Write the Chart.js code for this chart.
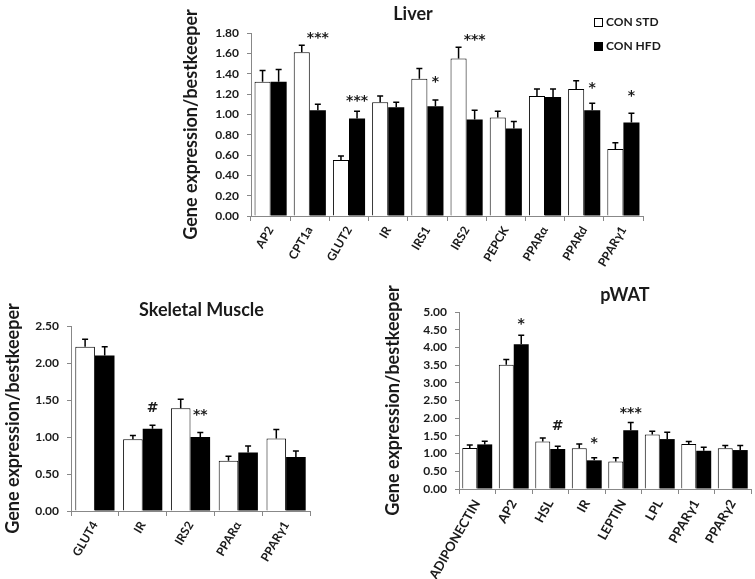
<!DOCTYPE html>
<html>
<head>
<meta charset="utf-8">
<script src="https://cdn.jsdelivr.net/npm/chart.js@4.4.0/dist/chart.umd.min.js"></script>
<style>
  html, body { margin: 0; padding: 0; background: #fff; overflow: hidden; }
  body { width: 755px; height: 579px; position: relative; }
  canvas { position: absolute; }
  #liver { left: 170px; top: 0; }
  #muscle { left: 0; top: 290px; }
  #pwat { left: 380px; top: 280px; }
</style>
</head>
<body>
<canvas id="liver" width="500" height="300"></canvas>
<canvas id="muscle" width="330" height="289"></canvas>
<canvas id="pwat" width="375" height="299"></canvas>
<script>
// values (mean and upper error)
const liverLabels = ["AP2", "CPT1a", "GLUT2", "IR", "IRS1", "IRS2", "PEPCK", "PPARα", "PPARd", "PPARγ1"];
const liverStd = [1.32, 1.61, 0.55, 1.12, 1.35, 1.55, 0.97, 1.18, 1.25, 0.66];
const liverStdErr = [0.11, 0.07, 0.04, 0.06, 0.10, 0.11, 0.06, 0.07, 0.08, 0.06];
const liverHfd = [1.32, 1.04, 0.96, 1.07, 1.08, 0.95, 0.86, 1.17, 1.04, 0.92];
const liverHfdErr = [0.12, 0.06, 0.07, 0.05, 0.06, 0.09, 0.07, 0.08, 0.07, 0.09];
const liverSig = ["", "***", "***", "", "*", "***", "", "", "*", "*"];
const liverSigY = [0, 1.79, 1.17, 0, 1.36, 1.77, 0, 0, 1.30, 1.22];
const liverTicks = [0, 0.2, 0.4, 0.6, 0.8, 1.0, 1.2, 1.4, 1.6, 1.8];

const muscleLabels = ["GLUT4", "IR", "IRS2", "PPARα", "PPARγ1"];
const muscleStd = [2.22, 0.97, 1.39, 0.68, 0.98];
const muscleStdErr = [0.10, 0.05, 0.12, 0.06, 0.12];
const muscleHfd = [2.10, 1.11, 1.00, 0.79, 0.73];
const muscleHfdErr = [0.12, 0.05, 0.06, 0.09, 0.08];
const muscleSig = ["", "#", "**", "", ""];
const muscleSigY = [0, 1.41, 1.35, 0, 0];
const muscleTicks = [0, 0.5, 1.0, 1.5, 2.0, 2.5];

const pwatLabels = ["ADIPONECTIN", "AP2", "HSL", "IR", "LEPTIN", "LPL", "PPARγ1", "PPARγ2"];
const pwatStd = [1.16, 3.51, 1.34, 1.15, 0.78, 1.54, 1.27, 1.15];
const pwatStdErr = [0.08, 0.15, 0.10, 0.12, 0.10, 0.09, 0.07, 0.08];
const pwatHfd = [1.26, 4.09, 1.13, 0.81, 1.66, 1.41, 1.08, 1.10];
const pwatHfdErr = [0.09, 0.25, 0.08, 0.07, 0.22, 0.19, 0.10, 0.13];
const pwatSig = ["", "*", "#", "*", "***", "", "", ""];
const pwatSigY = [0, 4.76, 1.81, 1.40, 2.26, 0, 0, 0];
const pwatTicks = [0, 0.5, 1.0, 1.5, 2.0, 2.5, 3.0, 3.5, 4.0, 4.5, 5.0];

const FONT = "Lato, 'Noto Sans', sans-serif";
const INK = "#1a1a1a";
const AXIS = "#888";

// error bars, significance marks and panel title
function panelExtras(opt) {
  return {
    id: "panelExtras",
    afterDatasetsDraw(chart) {
      const { ctx, chartArea } = chart;
      const y = chart.scales.y;
      ctx.save();
      ctx.strokeStyle = "#000";
      ctx.lineWidth = 1.5;
      chart.data.datasets.forEach((ds, di) => {
        chart.getDatasetMeta(di).data.forEach((bar, i) => {
          const top = y.getPixelForValue(ds.data[i] + ds.errors[i]);
          ctx.beginPath();
          ctx.moveTo(bar.x, bar.y);
          ctx.lineTo(bar.x, top);
          ctx.moveTo(bar.x - 3, top);
          ctx.lineTo(bar.x + 3, top);
          ctx.stroke();
        });
      });

      const hfd = chart.getDatasetMeta(1);
      ctx.fillStyle = INK;
      ctx.textAlign = "center";
      ctx.textBaseline = "alphabetic";
      ctx.font = "bold 14px 'DejaVu Sans', sans-serif";
      opt.sig.forEach((s, i) => {
        if (!s) return;
        const py = y.getPixelForValue(opt.sigY[i]);
        ctx.fillText(s, hfd.data[i].x, py + (s[0] === "#" ? 5 : 8));
      });

      ctx.font = "bold 18px " + FONT;
      ctx.textBaseline = "middle";
      ctx.fillText(opt.title, (chartArea.left + chartArea.right) / 2 + opt.dx, chartArea.top + opt.dy);
      ctx.restore();
    }
  };
}

// legend in the top right corner of the liver panel
const cornerLegend = {
  id: "cornerLegend",
  afterDraw(chart) {
    const { ctx, chartArea } = chart;
    ctx.save();
    ctx.font = "bold 12px " + FONT;
    ctx.textBaseline = "middle";
    ctx.textAlign = "left";
    chart.data.datasets.forEach((ds, i) => {
      const x = chartArea.right - 49;
      const yy = chartArea.top - 11 + i * 24;
      ctx.fillStyle = ds.backgroundColor;
      ctx.fillRect(x, yy - 4, 9, 9);
      ctx.strokeStyle = "#000";
      ctx.lineWidth = 1;
      ctx.strokeRect(x + 0.5, yy - 3.5, 8, 8);
      ctx.fillStyle = INK;
      ctx.fillText(ds.label, x + 12, yy);
    });
    ctx.restore();
  }
};

function panel(id, d, box, plugins) {
  return new Chart(document.getElementById(id), {
    type: "bar",
    data: {
      labels: d.labels,
      datasets: [
        { label: "CON STD", data: d.std, errors: d.stdErr, backgroundColor: "#fff", borderColor: "#000", borderWidth: 1 },
        { label: "CON HFD", data: d.hfd, errors: d.hfdErr, backgroundColor: "#000", borderColor: "#000", borderWidth: 0 }
      ]
    },
    options: {
      responsive: false,
      animation: false,
      layout: { padding: { top: box.top, right: box.right, left: 0, bottom: 0 } },
      datasets: { bar: { categoryPercentage: 0.82, barPercentage: 1 } },
      plugins: { legend: { display: false }, tooltip: { enabled: false } },
      scales: {
        x: {
          grid: { drawOnChartArea: false, tickLength: 5, color: AXIS },
          border: { color: AXIS },
          ticks: {
            autoSkip: false, minRotation: 60, maxRotation: 60, padding: 3, color: INK,
            font: { family: FONT, size: box.xf, weight: "bold" }
          },
          afterFit: (s) => { s.height = box.xh; }
        },
        y: {
          min: 0,
          max: d.ticks[d.ticks.length - 1],
          grid: { drawOnChartArea: false, tickLength: 4, color: AXIS },
          border: { color: AXIS },
          ticks: {
            padding: 8, color: INK,
            font: { family: FONT, size: 12, weight: "bold" },
            callback: (v) => v.toFixed(2)
          },
          afterBuildTicks: (s) => { s.ticks = d.ticks.map((v) => ({ value: v })); },
          title: {
            display: true, text: "Gene expression/bestkeeper", color: INK,
            font: { family: FONT, size: 18, weight: "bold" },
            padding: { top: box.tp, bottom: 0 }
          },
          afterFit: (s) => { s.width = box.yw; }
        }
      }
    },
    plugins: plugins
  });
}

panel("liver",
  { labels: liverLabels, std: liverStd, stdErr: liverStdErr, hfd: liverHfd, hfdErr: liverHfdErr, ticks: liverTicks },
  { top: 33, right: 27, yw: 81, xh: 84, tp: 10, xf: 12 },
  [panelExtras({ title: "Liver", dx: -34, dy: -19, sig: liverSig, sigY: liverSigY }), cornerLegend]);

panel("muscle",
  { labels: muscleLabels, std: muscleStd, stdErr: muscleStdErr, hfd: muscleHfd, hfdErr: muscleHfdErr, ticks: muscleTicks },
  { top: 36, right: 20, yw: 71, xh: 68, tp: 2, xf: 12 },
  [panelExtras({ title: "Skeletal Muscle", dx: 11, dy: -16, sig: muscleSig, sigY: muscleSigY })]);

panel("pwat",
  { labels: pwatLabels, std: pwatStd, stdErr: pwatStdErr, hfd: pwatHfd, hfdErr: pwatHfdErr, ticks: pwatTicks },
  { top: 32, right: 4, yw: 79, xh: 90, tp: 2, xf: 13 },
  [panelExtras({ title: "pWAT", dx: 20, dy: -17, sig: pwatSig, sigY: pwatSigY })]);
</script>
</body>
</html>
